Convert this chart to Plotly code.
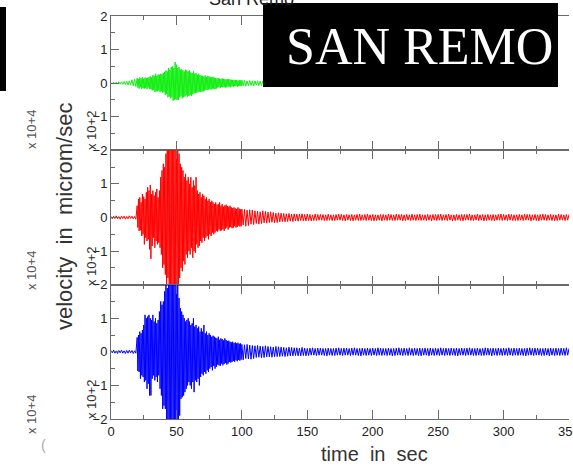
import numpy as np
import plotly.graph_objects as go

# ---------------- data ----------------
# three sampling segments: pre-event (1 s steps from 0 s), main shaking
# (0.5 s steps from 20 s), coda (1 s steps from 100 s)
SEG_STARTS = [0.0, 20.0, 100.0]
SEG_STEPS = [1.0, 0.5, 1.0]

green_pre = [.02, -.03, .03, -.02, .03, -.03, .04, -.03, .04, -.04,
             .05, -.04, .06, -.05, .07, -.06, .10, -.08, .12, -.10]
green_main = [
    .15, -.13, .12, -.16, .17, -.12, .14, -.17, .18, -.15, .13, -.16, .17, -.14, .15, -.18, .16, -.13, .18, -.17,
    .20, -.18, .17, -.22, .24, -.20, .22, -.26, .28, -.25, .22, -.24, .26, -.22, .25, -.27, .28, -.24, .27, -.28,
    .30, -.27, .33, -.35, .38, -.32, .35, -.42, .45, -.40, .40, -.45, .48, -.42, .50, -.52, .45, -.50, .63, -.48,
    .55, -.50, .45, -.50, .48, -.42, .40, -.38, .42, -.45, .38, -.42, .35, -.40, .40, -.36, .38, -.40, .35, -.38,
    .38, -.35, .32, -.38, .30, -.33, .35, -.30, .28, -.30, .30, -.28, .25, -.27, .28, -.25, .24, -.26, .22, -.25,
    .22, -.25, .20, -.22, .23, -.20, .18, -.20, .22, -.19, .20, -.18, .17, -.19, .18, -.16, .19, -.17, .16, -.18,
    .15, -.16, .14, -.13, .15, -.12, .13, -.14, .12, -.11, .14, -.12, .13, -.12, .12, -.13, .11, -.12, .12, -.10,
    .12, -.10, .11, -.12, .10, -.09, .10, -.11, .09, -.08, .10, -.09, .09, -.10, .08, -.09, .09, -.08, .08, -.09,
]
green_coda = [.09, -.08, .08, -.09, .07, -.08, .08, -.07, .07, -.08,
              .07, -.06, .07, -.07, .06, -.07, .06, -.06, .07, -.06, .06]

red_pre = [.03, -.04, .04, -.03, .05, -.04, .03, -.05, .04, -.03,
           .04, -.05, .03, -.04, .05, -.03, .04, -.04, .03, -.05]
red_main = [
    .35, -.30, .55, -.40, .60, -.38, .45, -.55, .70, -.50, .62, -.80, .55, -.60, .75, -.70, .90, -.65, .80, -.95,
    .97, -1.23, .70, -.85, .80, -.60, .65, -.90, .75, -.70, .85, -.80, .60, -.75, .80, -.90, 1.20, -1.10, 1.40, -1.50,
    1.60, -1.40, 1.50, -1.70, 1.90, -2.10, 2.30, -1.80, 2.20, -2.40, 2.50, -2.20, 2.10, -2.50, 2.40, -2.30, 2.60, -2.20, 2.30, -2.50,
    2.40, -2.20, 2.10, -2.30, 1.90, -1.80, 1.60, -1.50, 1.50, -1.60, 1.40, -1.30, 1.20, -1.40, 1.30, -1.10, 1.10, -1.20, 1.20, -1.00,
    1.00, -1.10, 1.20, -.90, .90, -1.20, 1.10, -1.00, .95, -1.05, 1.20, -.80, .80, -.90, .70, -.85, .75, -.70, .60, -.75,
    .70, -.60, .65, -.70, .55, -.60, .60, -.55, .50, -.65, .55, -.50, .45, -.55, .50, -.45, .45, -.50, .40, -.45,
    .45, -.40, .38, -.42, .40, -.36, .45, -.40, .35, -.38, .40, -.35, .32, -.40, .36, -.33, .38, -.30, .34, -.36,
    .32, -.30, .35, -.28, .30, -.32, .28, -.30, .30, -.26, .27, -.30, .25, -.28, .30, -.24, .26, -.27, .24, -.26,
]
red_coda = [
    .25, -.22, .24, -.26, .22, -.24, .23, -.20, .22, -.21,
    .20, -.18, .19, -.20, .17, -.18, .20, -.16, .18, -.17,
    .16, -.15, .17, -.14, .15, -.16, .13, -.15, .14, -.13,
    .13, -.12, .12, -.13, .11, -.12, .12, -.11, .10, -.12,
    .11, -.10, .10, -.11, .10, -.09, .11, -.10, .09, -.10,
    .10, -.09, .09, -.10, .08, -.09, .10, -.09, .09, -.08,
    .09, -.08, .09, -.09, .08, -.09, .10, -.08, .08, -.09,
    .08, -.09, .09, -.08, .10, -.08, .09, -.09, .08, -.10,
    .09, -.08, .08, -.09, .09, -.10, .08, -.08, .09, -.09,
    .10, -.09, .08, -.08, .09, -.09, .10, -.08, .08, -.09,
    .09, -.10, .08, -.09, .08, -.08, .09, -.10, .09, -.08,
    .08, -.09, .10, -.08, .09, -.09, .08, -.09, .10, -.08,
    .09, -.08, .09, -.10, .08, -.09, .09, -.08, .08, -.09,
    .10, -.08, .08, -.09, .09, -.08, .10, -.09, .08, -.08,
    .08, -.09, .09, -.08, .08, -.10, .09, -.08, .09, -.09,
    .09, -.08, .10, -.09, .08, -.08, .09, -.09, .10, -.08,
    .08, -.10, .08, -.09, .09, -.08, .08, -.09, .09, -.10,
    .09, -.08, .09, -.08, .10, -.09, .08, -.09, .08, -.08,
    .10, -.09, .08, -.08, .09, -.10, .08, -.09, .09, -.08,
    .08, -.09, .09, -.10, .08, -.08, .09, -.08, .10, -.09,
    .09, -.08, .08, -.09, .10, -.08, .09, -.09, .08, -.09,
    .08, -.09, .09, -.08, .08, -.09, .10, -.08, .09, -.08,
    .09, -.10, .08, -.08, .09, -.09, .08, -.10, .09, -.08,
    .10, -.08, .09, -.09, .08, -.08, .09, -.09, .08, -.10,
    .08, -.09, .10, -.08, .09, -.08, .08, -.09, .09, -.08,
    .09,
]

blue_pre = [.04, -.03, .05, -.04, .03, -.05, .04, -.03, .05, -.04,
            .03, -.05, .04, -.04, .05, -.03, .04, -.05, .03, -.04]
blue_main = [
    .43, -.57, .50, -.60, .60, -.80, .55, -.70, .65, -.75, .80, -.90, 1.10, -.85, 1.00, -1.10, 1.05, -.95, 1.10, -1.30,
    1.00, -1.30, .95, -.80, 1.10, -.70, .90, -.85, 1.00, -.75, .85, -.90, .95, -.70, 1.20, -1.10, 1.50, -1.30, 1.40, -1.70,
    1.50, -1.60, 1.80, -1.70, 2.20, -2.10, 1.90, -2.40, 2.30, -2.20, 2.50, -2.30, 2.20, -2.50, 2.40, -2.10, 2.60, -2.40, 2.30, -2.50,
    2.20, -2.40, 2.10, -2.30, 1.60, -1.90, 1.30, -1.40, 1.20, -1.35, 1.10, -1.30, 1.00, -1.20, .90, -1.10, .95, -1.00, 1.00, -.90,
    .90, -1.00, .80, -1.10, .85, -.90, 1.00, -1.20, .75, -.85, .80, -.90, .70, -.80, .75, -1.00, .60, -.75, .70, -.65,
    .60, -.70, .80, -.60, .55, -.65, .60, -.55, .50, -.60, .55, -.50, .50, -.45, .45, -.55, .48, -.42, .45, -.50,
    .42, -.45, .40, -.38, .45, -.40, .36, -.42, .40, -.35, .38, -.40, .34, -.36, .40, -.33, .35, -.38, .32, -.35,
    .33, -.30, .30, -.32, .28, -.30, .30, -.27, .26, -.30, .28, -.25, .25, -.28, .27, -.24, .24, -.26, .25, -.23,
]
blue_coda = [
    .22, -.24, .21, -.20, .22, -.21, .20, -.22, .19, -.20,
    .18, -.17, .19, -.16, .17, -.18, .16, -.17, .18, -.15,
    .16, -.15, .15, -.16, .14, -.15, .16, -.14, .15, -.14,
    .14, -.13, .13, -.14, .12, -.13, .14, -.12, .13, -.12,
    .12, -.11, .12, -.12, .11, -.12, .13, -.11, .11, -.12,
    .10, -.11, .11, -.10, .12, -.10, .10, -.11, .11, -.10,
    .11, -.10, .10, -.11, .10, -.12, .11, -.10, .10, -.11,
    .10, -.11, .11, -.10, .12, -.10, .10, -.11, .11, -.10,
    .11, -.10, .10, -.11, .11, -.10, .12, -.10, .10, -.11,
    .10, -.12, .11, -.10, .10, -.11, .11, -.10, .10, -.11,
    .11, -.10, .10, -.11, .12, -.10, .11, -.11, .10, -.10,
    .10, -.11, .11, -.10, .10, -.12, .10, -.11, .11, -.10,
    .12, -.10, .10, -.11, .11, -.10, .10, -.11, .12, -.10,
    .10, -.11, .11, -.10, .10, -.11, .11, -.12, .10, -.10,
    .11, -.10, .10, -.12, .11, -.10, .10, -.11, .11, -.10,
    .10, -.11, .12, -.10, .10, -.11, .11, -.10, .10, -.11,
    .11, -.10, .10, -.11, .11, -.12, .10, -.10, .11, -.10,
    .10, -.11, .11, -.10, .12, -.10, .10, -.11, .10, -.11,
    .11, -.10, .10, -.11, .10, -.11, .12, -.10, .11, -.10,
    .10, -.12, .11, -.10, .10, -.11, .11, -.10, .10, -.11,
    .11, -.10, .10, -.11, .12, -.10, .10, -.11, .11, -.10,
    .10, -.11, .11, -.10, .10, -.11, .10, -.12, .11, -.10,
    .12, -.10, .10, -.11, .11, -.10, .11, -.10, .10, -.11,
    .10, -.11, .11, -.10, .10, -.12, .11, -.10, .10, -.11,
    .11, -.10, .10, -.11, .11, -.10, .10, -.11, .12, -.10,
    .10,
]

x_tick_vals = [0, 50, 100, 150, 200, 250, 300, 350]
x_tick_text = ["0", "50", "100", "150", "200", "250", "300", ""]
x_last_label = "350"   # drawn separately: it runs past the page edge, as in the original
y_tick_vals = [-2, -1, 0, 1, 2]
y_tick_text_top = ["\u22122", "\u22121", "0", "1", "2"]
y_tick_text_lower = ["\u22122", "\u22121", "0", "1", ""]  # "2" hides under the "-2" above


def build(segments):
    t, v = [], []
    for start, step, vals in zip(SEG_STARTS, SEG_STEPS, segments):
        t += list(start + np.arange(len(vals)) * step)
        v += list(vals)
    return t, v


# ---------------- figure ----------------
W, H = 573, 468
ML, MR, MT, MB = 111, 4, 16, 49
PW, PH = W - ML - MR, H - MT - MB


def px(x):
    return (x - ML) / PW


def py(y):
    return (H - MB - y) / PH


fig = go.Figure()
for segs, color, xa, ya in [((green_pre, green_main, green_coda), "#11ee11", "x", "y"),
                            ((red_pre, red_main, red_coda), "#ff0000", "x2", "y2"),
                            ((blue_pre, blue_main, blue_coda), "#0000ff", "x3", "y3")]:
    t, v = build(segs)
    fig.add_trace(go.Scatter(x=t, y=v, mode="lines", line=dict(color=color, width=1),
                             xaxis=xa, yaxis=ya, hoverinfo="skip"))

LC = "#6a6a6a"
FONT = "Liberation Sans, Arial, sans-serif"
tick_font = dict(family=FONT, size=13, color="#222")


def xax(anchor, labels):
    return dict(anchor=anchor, domain=[0, 1], range=[0, 350], tickvals=x_tick_vals,
                ticktext=x_tick_text, automargin=False,
                ticks="inside", ticklen=9, tickcolor=LC, showline=True, linecolor=LC,
                linewidth=1, mirror="ticks", showgrid=False, zeroline=False,
                showticklabels=labels, tickfont=tick_font,
                minor=dict(dtick=25, ticks="inside", ticklen=4, tickcolor=LC))


def yax(anchor, dom, text):
    return dict(anchor=anchor, domain=dom, range=[-2, 2], tickvals=y_tick_vals, ticktext=text,
                automargin=False,
                ticks="inside", ticklen=8, tickcolor=LC, showline=True, linecolor=LC,
                linewidth=1, showgrid=False, zeroline=False, tickfont=tick_font,
                minor=dict(dtick=0.5, ticks="inside", ticklen=4, tickcolor=LC))


fig.update_layout(
    width=W, height=H,
    margin=dict(l=ML, r=MR, t=MT, b=MB),
    paper_bgcolor="white", plot_bgcolor="white",
    showlegend=False,
    xaxis=xax("y", False), yaxis=yax("x", [2 / 3, 1], y_tick_text_top),
    xaxis2=xax("y2", False), yaxis2=yax("x2", [1 / 3, 2 / 3], y_tick_text_lower),
    xaxis3=xax("y3", True), yaxis3=yax("x3", [0, 1 / 3], y_tick_text_lower),
)

ann = []
ann.append(dict(text=x_last_label, x=x_tick_vals[-1], xref="x3", y=py(431), yref="paper",
                font=tick_font))
ann.append(dict(text="velocity\u00a0\u00a0in\u00a0\u00a0microm/sec", x=px(64), y=py(217),
                textangle=-90, font=dict(family=FONT, size=22, color="#333")))
ann.append(dict(text="time\u00a0\u00a0in\u00a0\u00a0sec", x=px(374), y=py(454),
                font=dict(family=FONT, size=20, color="#333")))
for yy in [131, 267, 400]:
    ann.append(dict(text="x\u00a010+2", x=px(91), y=py(yy), textangle=-90,
                    font=dict(family=FONT, size=13, color="#333")))
for yy in [130, 271, 415]:
    ann.append(dict(text="x\u00a010+4", x=px(31), y=py(yy), textangle=-90,
                    font=dict(family=FONT, size=13, color="#555")))
ann.append(dict(text="(", x=px(43), y=py(445), font=dict(family=FONT, size=14, color="#aaa")))
ann.append(dict(text="San\u00a0Remo", x=px(207), y=py(-1), xanchor="left",
                font=dict(family=FONT, size=18, color="#222")))
ann.append(dict(text="SAN REMO", x=px(419), y=py(47),
                font=dict(family="Liberation Serif, Times New Roman, serif", size=52, color="white")))
for a in ann:
    a.setdefault("xref", "paper")
    a.setdefault("yref", "paper")
    a["showarrow"] = False
    a.setdefault("xanchor", "center")
    a.setdefault("yanchor", "middle")
fig.update_layout(annotations=ann)

fig.update_layout(shapes=[
    dict(type="rect", xref="paper", yref="paper", x0=px(263), x1=px(558), y0=py(87), y1=py(3),
         fillcolor="black", line=dict(width=0), layer="above"),
    dict(type="rect", xref="paper", yref="paper", x0=px(0), x1=px(6), y0=py(91), y1=py(7),
         fillcolor="black", line=dict(width=0), layer="above"),
])

fig.write_html("out.html", post_script="document.body.style.margin='0';",
               config={"displayModeBar": False})
